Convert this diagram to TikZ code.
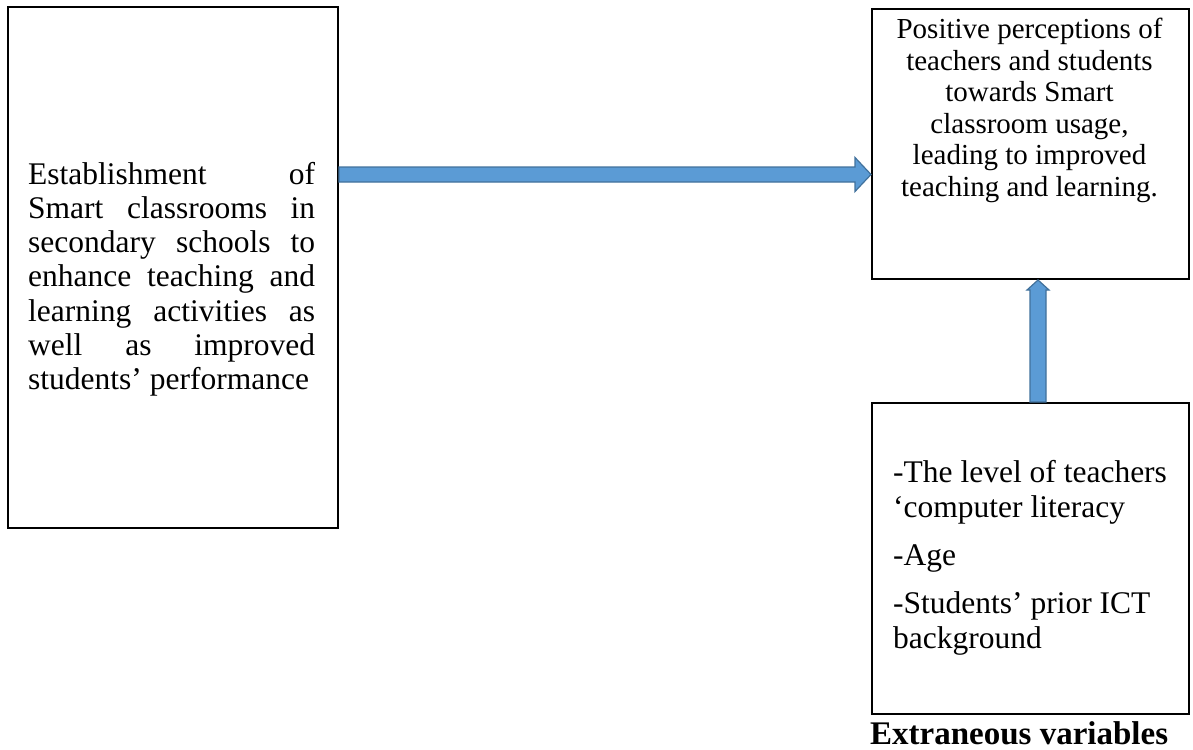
\documentclass[tikz,border=0pt]{standalone}
\usepackage{fontspec}
\setmainfont{Liberation Serif}
\usetikzlibrary{calc,positioning}
\definecolor{arrowfill}{RGB}{91,155,213}
\definecolor{arrowline}{RGB}{65,113,156}
\tikzset{varbox/.style={draw=black,line width=2pt,rectangle,inner sep=0pt,anchor=north west},
    boxtext/.style={inner sep=0pt,font=\fontsize{31.5}{34.2}\selectfont},
    blockarrow/.style={fill=arrowfill,draw=arrowline,line width=1.2pt,line join=miter}}

\begin{document}
\begin{tikzpicture}[x=1pt,y=-1pt]
        \useasboundingbox (0,0) rectangle (1193,749);

        % the three boxes
        \node[varbox,minimum width=330pt,minimum height=521pt] (indep) at (7,6) {};
        \node[varbox,minimum width=317pt,minimum height=270pt] (outcome) at (871,8) {};
        \node[varbox,minimum width=317pt,minimum height=311pt] (extra) at (871,402) {};

        \node[boxtext,text width=287pt,align=justify,anchor=north west] (indeptext) at (28,162)
        {Establishment of\linebreak Smart classrooms in\linebreak secondary schools to\linebreak
        enhance teaching and\linebreak learning activities as\linebreak well as improved\linebreak
        students’ performance};

        \node[boxtext,font=\fontsize{29}{31.5}\selectfont,align=center,anchor=north] (outcometext)
        at (1029.5,18) {Positive perceptions of\\teachers and students\\towards Smart\\
        classroom usage,\\leading to improved\\teaching and learning.};

        \node[boxtext,font=\fontsize{31.5}{35}\selectfont,align=left,anchor=north west] (extratext)
        at (893,460.5) {-The level of teachers\\‘computer literacy\\[13pt]-Age\\[13pt]
        -Students’ prior ICT\\background};

        \node[inner sep=0pt,anchor=base west,font=\fontsize{33}{36}\selectfont\bfseries]
        (extralabel) at (870,744) {Extraneous variables};

        % block arrows
        \coordinate (hs) at (indep.east |- 0,174.5);
        \coordinate (he) at (outcome.west |- 0,174.5);
        \draw[blockarrow] ($(hs)+(0,-7.5)$) -- ($(he)+(-16,-7.5)$) -- ($(he)+(-16,-17)$)
        -- (he) -- ($(he)+(-16,17)$) -- ($(he)+(-16,7.5)$) -- ($(hs)+(0,7.5)$) -- cycle;

        \coordinate (vs) at (extra.north -| 1038,0);
        \coordinate (ve) at (outcome.south -| 1038,0);
        \draw[blockarrow] ($(vs)+(-8,0)$) -- ($(ve)+(-8,10)$) -- ($(ve)+(-11,10)$)
        -- (ve) -- ($(ve)+(11,10)$) -- ($(ve)+(8,10)$) -- ($(vs)+(8,0)$) -- cycle;
\end{tikzpicture}
\end{document}
